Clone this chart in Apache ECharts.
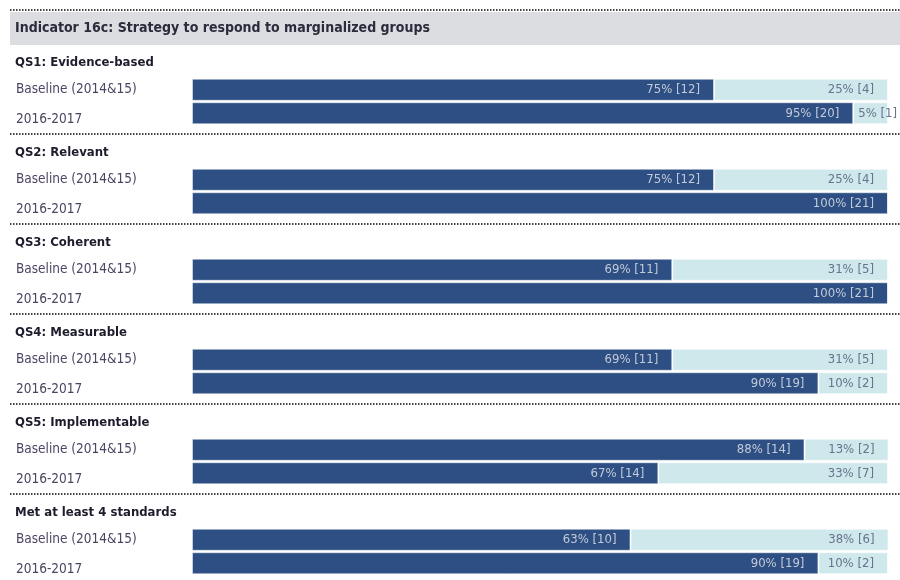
<!DOCTYPE html>
<html>
<head>
<meta charset="utf-8">
<script src="https://cdn.jsdelivr.net/npm/echarts@6/dist/echarts.min.js"></script>
<style>
  html, body { margin: 0; padding: 0; background: #fff; }
  #chart { width: 900px; height: 580px; }
</style>
</head>
<body>
<div id="chart"></div>
<script>
// data
var heading = 'Indicator 16c: Strategy to respond to marginalized groups';
var groups = ['QS1: Evidence-based', 'QS2: Relevant', 'QS3: Coherent', 'QS4: Measurable', 'QS5: Implementable', 'Met at least 4 standards'];
var periods = ['Baseline (2014&15)', '2016-2017'];
var metPct = [[75, 95], [75, 100], [69, 100], [69, 90], [88, 67], [63, 90]];
var metN = [[12, 20], [12, 21], [11, 21], [11, 19], [14, 14], [10, 19]];
var notPct = [[25, 5], [25, 0], [31, 0], [31, 10], [13, 33], [38, 10]];
var notN = [[4, 1], [4, 0], [5, 0], [5, 2], [2, 7], [6, 2]];

var FONT = "'DejaVu Sans Condensed', 'Liberation Sans Narrow', Roboto, sans-serif";
var firstTop = 78;
var pitch = 90;

var grids = [], xAxes = [], yAxes = [], series = [], titles = [], graphics = [];

// header band
graphics.push({
  type: 'line', shape: { x1: 10, y1: 10, x2: 900, y2: 10 },
  style: { stroke: '#444', lineWidth: 2, lineDash: [1.5, 1.5] }
});
graphics.push({
  type: 'rect', shape: { x: 10, y: 12, width: 890, height: 33 },
  style: { fill: '#dcdde0' }
});
graphics.push({
  type: 'text', x: 15, y: 28,
  style: { text: heading, font: 'bold 14px ' + FONT, fill: '#2b2b3b', verticalAlign: 'middle' }
});

groups.forEach(function (g, i) {
  var top = firstTop + pitch * i;
  grids.push({ left: 192, right: 12, top: top, height: 47 });
  xAxes.push({ gridIndex: i, type: 'value', min: 0, max: 100, show: false });
  yAxes.push({
    gridIndex: i, type: 'category', data: periods, inverse: true,
    axisLine: { show: false }, axisTick: { show: false },
    axisLabel: {
      align: 'left', margin: 176,
      formatter: function (v, idx) { return idx === 1 ? '{b|' + v + '}' : '{a|' + v + '}'; },
      rich: {
        a: { fontFamily: FONT, fontSize: 13.5, color: '#4d4463' },
        b: { fontFamily: FONT, fontSize: 13.5, color: '#4d4463', padding: [12, 0, 0, 0] }
      }
    }
  });
  titles.push({
    text: g, left: 10, top: top - 27,
    textStyle: { fontFamily: FONT, fontSize: 13, fontWeight: 'bold', color: '#1c1c2c' }
  });
  if (i > 0) {
    graphics.push({
      type: 'line', shape: { x1: 10, y1: top - 34, x2: 900, y2: top - 34 },
      style: { stroke: '#444', lineWidth: 2, lineDash: [1.5, 1.5] }
    });
  }
  series.push({
    type: 'bar', xAxisIndex: i, yAxisIndex: i, stack: 's' + i, barWidth: 22,
    data: metPct[i],
    itemStyle: { color: '#2e4f83', borderColor: 'rgba(255,255,255,0.45)', borderWidth: 1 },
    label: {
      show: true, position: 'insideRight', distance: 14,
      fontFamily: FONT, fontSize: 13, color: '#c3cad8',
      formatter: function (p) { return p.value + '% [' + metN[i][p.dataIndex] + ']'; }
    }
  });
  series.push({
    type: 'bar', xAxisIndex: i, yAxisIndex: i, stack: 's' + i, barWidth: 22,
    data: notPct[i].map(function (v) {
      return v < 8 ? { value: v, label: { position: 'insideLeft', distance: 5 } } : v;
    }),
    itemStyle: { color: '#cfe8ec', borderColor: 'rgba(255,255,255,0.6)', borderWidth: 1 },
    label: {
      show: true, position: 'insideRight', distance: 14,
      fontFamily: FONT, fontSize: 13, color: '#66748c',
      formatter: function (p) { return p.value ? p.value + '% [' + notN[i][p.dataIndex] + ']' : ''; }
    }
  });
});

var chart = echarts.init(document.getElementById('chart'));
chart.setOption({
  animation: false,
  title: titles,
  grid: grids,
  xAxis: xAxes,
  yAxis: yAxes,
  series: series,
  graphic: graphics
});
window.addEventListener('resize', function () { chart.resize(); });
</script>
</body>
</html>
